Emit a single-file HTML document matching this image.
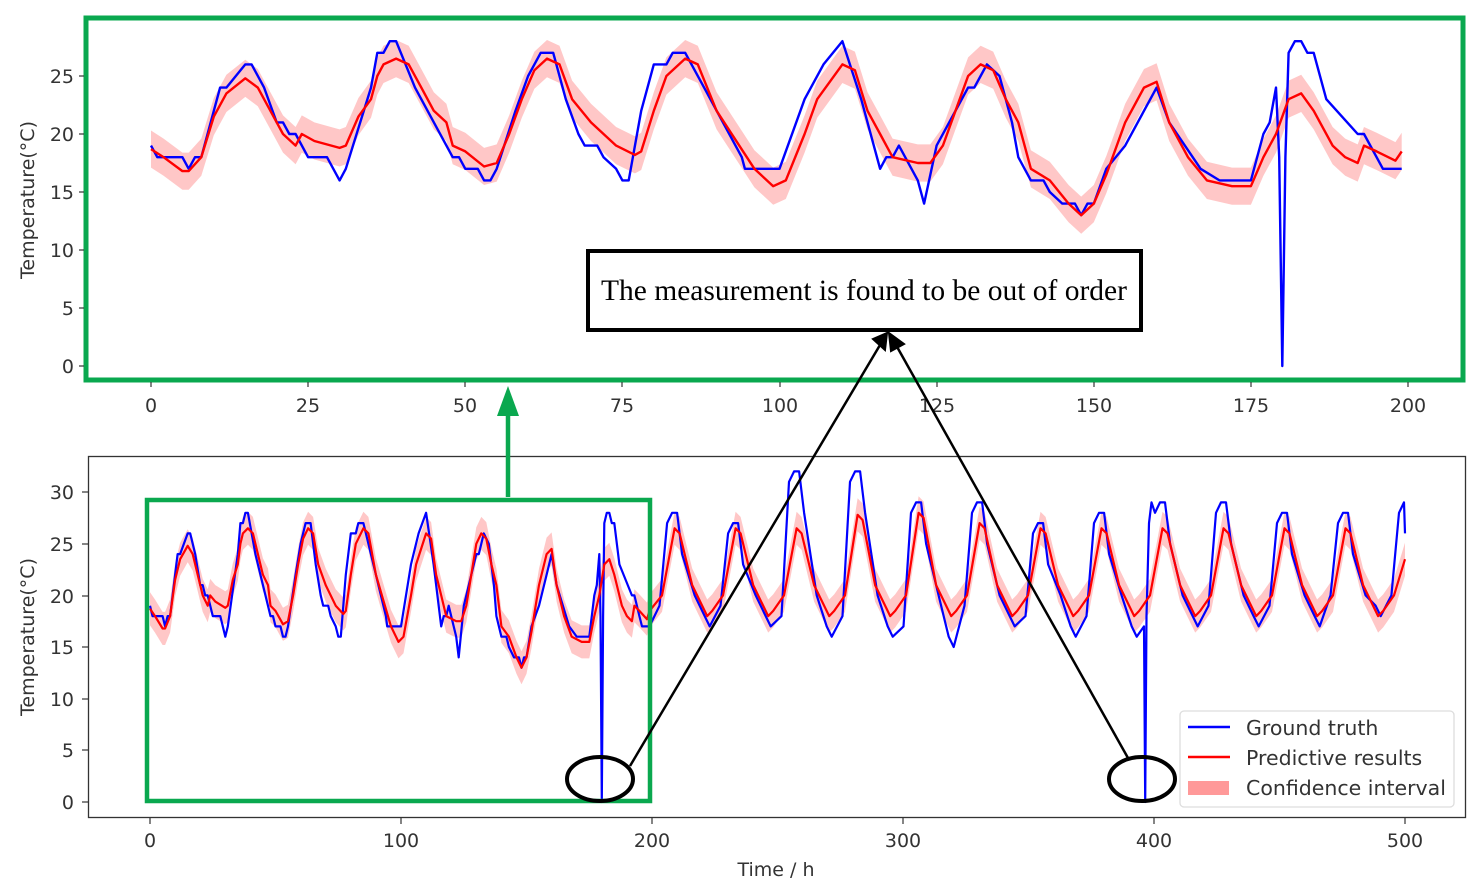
<!DOCTYPE html>
<html><head><meta charset="utf-8"><style>
html,body{margin:0;padding:0;background:#fff;}
svg{display:block;}
text{font-family:"DejaVu Sans","Liberation Sans",sans-serif;fill:#333;}
</style></head><body>
<svg id="s" width="1483" height="893" xmlns="http://www.w3.org/2000/svg">
<g id="top"></g>
<g id="bot"></g>
<rect x="86" y="18" width="1377" height="362" fill="none" stroke="#0aa84f" stroke-width="5"/>
<g font-size="19" text-anchor="end">
<text x="74" y="83">25</text><text x="74" y="141">20</text><text x="74" y="199">15</text><text x="74" y="257">10</text><text x="74" y="315">5</text><text x="74" y="373">0</text>
</g>
<g stroke="#333" stroke-width="1.2">
<line x1="79" y1="76" x2="84" y2="76"/><line x1="79" y1="134" x2="84" y2="134"/><line x1="79" y1="192" x2="84" y2="192"/><line x1="79" y1="250" x2="84" y2="250"/><line x1="79" y1="308" x2="84" y2="308"/><line x1="79" y1="366" x2="84" y2="366"/>
<line x1="151" y1="382" x2="151" y2="387"/><line x1="308" y1="382" x2="308" y2="387"/><line x1="465" y1="382" x2="465" y2="387"/><line x1="622" y1="382" x2="622" y2="387"/><line x1="780" y1="382" x2="780" y2="387"/><line x1="937" y1="382" x2="937" y2="387"/><line x1="1094" y1="382" x2="1094" y2="387"/><line x1="1251" y1="382" x2="1251" y2="387"/><line x1="1408" y1="382" x2="1408" y2="387"/>
</g>
<g font-size="19" text-anchor="middle">
<text x="151" y="412">0</text><text x="308" y="412">25</text><text x="465" y="412">50</text><text x="622" y="412">75</text><text x="780" y="412">100</text><text x="937" y="412">125</text><text x="1094" y="412">150</text><text x="1251" y="412">175</text><text x="1408" y="412">200</text>
</g>
<text transform="translate(34,200) rotate(-90)" font-size="19" text-anchor="middle">Temperature(°C)</text>

<rect x="88.5" y="456.5" width="1377" height="361" fill="none" stroke="#333" stroke-width="1.3"/>
<g font-size="19" text-anchor="end">
<text x="74" y="499">30</text><text x="74" y="551">25</text><text x="74" y="603">20</text><text x="74" y="654">15</text><text x="74" y="706">10</text><text x="74" y="757">5</text><text x="74" y="809">0</text>
</g>
<g stroke="#333" stroke-width="1.2">
<line x1="82" y1="492" x2="88" y2="492"/><line x1="82" y1="544" x2="88" y2="544"/><line x1="82" y1="596" x2="88" y2="596"/><line x1="82" y1="647" x2="88" y2="647"/><line x1="82" y1="699" x2="88" y2="699"/><line x1="82" y1="750" x2="88" y2="750"/><line x1="82" y1="802" x2="88" y2="802"/>
<line x1="150" y1="818" x2="150" y2="824"/><line x1="401" y1="818" x2="401" y2="824"/><line x1="652" y1="818" x2="652" y2="824"/><line x1="903" y1="818" x2="903" y2="824"/><line x1="1154" y1="818" x2="1154" y2="824"/><line x1="1405" y1="818" x2="1405" y2="824"/>
</g>
<g font-size="19" text-anchor="middle">
<text x="150" y="847">0</text><text x="401" y="847">100</text><text x="652" y="847">200</text><text x="903" y="847">300</text><text x="1154" y="847">400</text><text x="1405" y="847">500</text>
<text x="776" y="876">Time / h</text>
</g>
<text transform="translate(34,637) rotate(-90)" font-size="19" text-anchor="middle">Temperature(°C)</text>

<rect x="1180" y="711" width="274" height="96" rx="4" fill="#fff" fill-opacity="0.85" stroke="#ddd" stroke-width="1.3"/>
<line x1="1188" y1="727" x2="1230" y2="727" stroke="#0000ff" stroke-width="2.5"/>
<line x1="1188" y1="757" x2="1230" y2="757" stroke="#ff0000" stroke-width="2.5"/>
<rect x="1188" y="781" width="41" height="14" fill="#ff9999"/>
<g font-size="20.5"><text x="1246" y="735">Ground truth</text><text x="1246" y="765">Predictive results</text><text x="1246" y="795">Confidence interval</text></g>

<rect x="147" y="500" width="503" height="301" fill="none" stroke="#0aa84f" stroke-width="4.5"/>
<line x1="508" y1="497" x2="508" y2="412" stroke="#0aa84f" stroke-width="4.5"/>
<path d="M497,416 L508,386 L519,416 z" fill="#0aa84f"/>
<ellipse cx="600" cy="779" rx="33" ry="22" fill="none" stroke="#000" stroke-width="4"/>
<ellipse cx="1142" cy="779" rx="33" ry="22" fill="none" stroke="#000" stroke-width="4"/>
<line x1="630" y1="766" x2="880" y2="345" stroke="#000" stroke-width="2.5"/>
<path d="M873,339 L887,333 L885,350 z" fill="#000" stroke="#000" stroke-width="2"/>
<line x1="1128" y1="758" x2="896" y2="345" stroke="#000" stroke-width="2.5"/>
<path d="M889,333 L904,344 L891,351 z" fill="#000" stroke="#000" stroke-width="2"/>
<rect x="588" y="251" width="553" height="79" fill="#fff" stroke="#000" stroke-width="4"/>
<text x="864" y="300" font-size="29.5" text-anchor="middle" style="fill:#000;font-family:'Liberation Serif',serif">The measurement is found to be out of order</text>
</svg>
<script>
var gt=[[0,19],[1,18],[5,18],[6,17],[7,18],[8,18],[11,24],[12,24],[15,26],[16,26],[18,24],[20,21],[21,21],[22,20],[23,20],[25,18],[28,18],[30,16],[31,17],[35,24],[36,27],[37,27],[38,28],[39,28],[42,24],[48,18],[49,18],[50,17],[52,17],[53,16],[54,16],[55,17],[58,22],[60,25],[61,26],[62,27],[64,27],[66,23],[68,20],[69,19],[71,19],[72,18],[74,17],[75,16],[76,16],[78,22],[80,26],[82,26],[83,27],[85,27],[88,24],[94,18],[94.5,17],[97,17],[100,17],[104,23],[107,26],[110,28],[113,23],[116,17],[117,18],[118,18],[119,19],[120,18],[122,16],[123,14],[125,19],[130,24],[131,24],[132,25],[133,26],[135,25],[137,21],[138,18],[140,16],[142,16],[143,15],[145,14],[147,14],[148,13],[149,14],[150,14],[152,17],[155,19],[158,22],[160,24],[162,21],[167,17],[170,16],[175,16],[177,20],[178,21],[179,24],[179.5,18],[180,0],[180.5,18],[181,27],[182,28],[183,28],[184,27],[185,27],[187,23],[192,20],[193,20],[195,18],[196,17],[199,17]];
var pr=[[0,18.7],[2,18],[5,16.8],[6,16.8],[8,18],[10,21.5],[12,23.5],[15,24.8],[17,24],[19,22],[21,20],[23,19],[24,20],[26,19.4],[30,18.8],[31,19],[33,21.5],[35,23],[36,25],[37,26],[39,26.5],[41,26],[43,24],[45,22],[47,21],[48,19],[50,18.5],[53,17.2],[55,17.5],[57,20],[59,23],[61,25.5],[63,26.5],[65,26],[67,23],[70,21],[74,19],[77,18.2],[78,18.5],[80,22],[82,25],[85,26.5],[87,26],[90,22],[93,19.5],[96,17],[99,15.5],[101,16],[104,20],[106,23],[110,26],[112,25.5],[114,22],[116,20],[118,18],[122,17.5],[124,17.5],[126,19],[128,22],[130,25],[132,26],[134,25.5],[136,23],[138,21],[140,17],[143,16],[146,14],[148,13],[150,14],[152,16.5],[155,21],[158,24],[160,24.5],[162,21],[165,18],[168,16],[172,15.5],[175,15.5],[177,18],[179,20],[181,23],[183,23.5],[185,22],[188,19],[190,18],[192,17.5],[193,19],[195,18.5],[198,17.7],[199,18.5]];
var gtB=gt.slice(),prB=pr.slice();
var peaksG=[28,27,32,32,29,29,27,28,29,29,28,28,29];
var peaksP=[26.5,26.5,26.5,27.8,28,27,26.5,26.5,26.5,26.5,26.5,26.5,26.5];
var troughG=[17,17,16,16,15,17,16,16,17,17,17,18,18];
for(var k=0;k<13;k++){
 var base=201+k*24.3;
 gtB.push([base+2,troughG[k]+2],[base+5,peaksG[k]-1],[base+7,peaksG[k]],[base+9,peaksG[k]],[base+11,peaksG[k]-4],[base+16,20],[base+20,troughG[k]+1],[base+22,troughG[k]]);
 prB.push([base+3,20],[base+8,peaksP[k]],[base+10,peaksP[k]-0.5],[base+15,21],[base+21,18],[base+23,18.5]);
}
gtB=gtB.filter(function(p){return p[0]<=500;});
prB=prB.filter(function(p){return p[0]<=500;});
gtB=gtB.filter(function(p){return p[0]<395.5||p[0]>399;});
gtB.push([396,17],[396.5,0],[397,18],[398,27],[399,29]);
gtB.sort(function(a,b){return a[0]-b[0];});
gtB.push([500,26]);prB.push([500,23.5]);
function draw(g,G,P,x0,sx,y0,sy,w){
 var X=function(t){return (x0+t*sx).toFixed(1)},Y=function(v){return (y0-v*sy).toFixed(1)};
 var up=P.map(function(p){return X(p[0])+","+Y(p[1]+1.6)}),dn=P.slice().reverse().map(function(p){return X(p[0])+","+Y(p[1]-1.6)});
 var h='<polygon points="'+up.join(" ")+" "+dn.join(" ")+'" fill="#ff9999" fill-opacity="0.55"/>';
 h+='<polyline points="'+G.map(function(p){return X(p[0])+","+Y(p[1])}).join(" ")+'" fill="none" stroke="#0000ff" stroke-width="'+w+'" stroke-linejoin="round"/>';
 h+='<polyline points="'+P.map(function(p){return X(p[0])+","+Y(p[1])}).join(" ")+'" fill="none" stroke="#ff0000" stroke-width="'+w+'" stroke-linejoin="round"/>';
 document.getElementById(g).innerHTML=h;
}
draw("top",gt,pr,151,6.285,366,11.6,2.4);
draw("bot",gtB,prB,150,2.51,802,10.33,2.2);
</script>
</body></html>
